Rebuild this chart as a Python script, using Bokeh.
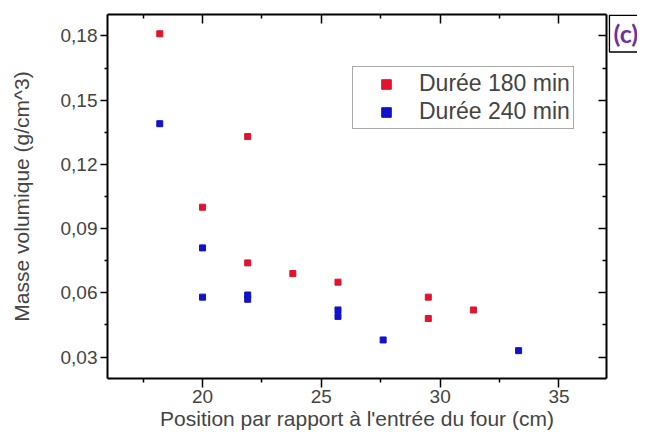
from bokeh.plotting import figure
from bokeh.layouts import row
from bokeh.core.properties import value
from bokeh.models import (LinearAxis, FixedTicker, CustomJSTickFormatter, Range1d,
                          Legend, LegendItem)
from bokeh.embed import file_html
from bokeh.resources import INLINE

# ---- data ----
pos_180 = [18.2, 21.9, 20.0, 21.9, 23.8, 25.7, 29.5, 29.5, 31.4]
dens_180 = [0.181, 0.133, 0.100, 0.074, 0.069, 0.065, 0.058, 0.048, 0.052]
pos_240 = [18.2, 20.0, 20.0, 21.9, 21.9, 25.7, 25.7, 27.6, 33.3]
dens_240 = [0.139, 0.081, 0.058, 0.059, 0.057, 0.052, 0.049, 0.038, 0.033]
series_labels = ["Durée 180 min", "Durée 240 min"]
x_ticks = [20, 25, 30, 35]
x_minor = [17.5, 22.5, 27.5, 32.5]
y_ticks = [0.03, 0.06, 0.09, 0.12, 0.15, 0.18]
y_minor = [0.045, 0.075, 0.105, 0.135, 0.165]
x_label = "Position par rapport à l'entrée du four (cm)"
y_label = "Masse volumique (g/cm^3)"
panel_tag = ["(c)"]

FONT = "Liberation Sans"
RED = "#E3122F"
BLUE = "#1212CC"

yr = Range1d(0.02, 0.19)

p = figure(width=608, height=432, output_backend="svg", toolbar_location=None,
           x_range=Range1d(16, 37), y_range=yr,
           x_axis_location=None, y_axis_location=None,
           min_border_left=107, min_border_right=2, min_border_top=14, min_border_bottom=50)
p.xgrid.visible = False
p.ygrid.visible = False
p.outline_line_color = None
p.background_fill_color = "white"
p.border_fill_color = "white"

xt = FixedTicker(ticks=x_ticks, minor_ticks=x_minor)
yt = FixedTicker(ticks=y_ticks, minor_ticks=y_minor)

def style(ax, tin, tout):
    ax.axis_line_color = "black"
    ax.axis_line_width = 2
    ax.major_tick_line_color = "black"
    ax.major_tick_line_width = 1.5
    ax.minor_tick_line_color = "black"
    ax.minor_tick_line_width = 1.5
    ax.major_tick_in = tin
    ax.major_tick_out = tout
    ax.minor_tick_in = tin // 2
    ax.minor_tick_out = tout // 2

bottom = LinearAxis(ticker=xt, axis_label=x_label)
style(bottom, 0, 9)
bottom.major_label_text_font = FONT
bottom.major_label_text_font_size = "19px"
bottom.major_label_standoff = 2
bottom.axis_label_text_font = FONT
bottom.axis_label_text_font_size = "21px"
bottom.axis_label_text_font_style = "normal"
bottom.axis_label_standoff = 1
p.add_layout(bottom, "below")

left = LinearAxis(ticker=yt, axis_label=y_label,
                  formatter=CustomJSTickFormatter(code="return tick.toFixed(2).replace('.', ',');"))
style(left, 0, 7)
left.major_label_text_font = FONT
left.major_label_text_font_size = "19px"
left.major_label_standoff = 3
left.axis_label_text_font = FONT
left.axis_label_text_font_size = "21px"
left.axis_label_text_font_style = "normal"
left.axis_label_standoff = 25
p.add_layout(left, "left")

empty = CustomJSTickFormatter(code="return '';")
top = LinearAxis(ticker=xt, formatter=empty)
style(top, 9, 0)
top.major_label_standoff = 0
p.add_layout(top, "above")

right = LinearAxis(ticker=yt, formatter=empty)
style(right, 8, 0)
right.major_label_standoff = 0
p.add_layout(right, "right")

r1 = p.scatter(pos_180, dens_180, marker="square", size=6, color=RED)
r2 = p.scatter(pos_240, dens_240, marker="square", size=6, color=BLUE)

legend = Legend(items=[LegendItem(label=series_labels[0], renderers=[r1]),
                       LegendItem(label=series_labels[1], renderers=[r2])],
                location=(245, 249), padding=3, spacing=1, margin=0,
                glyph_width=60, glyph_height=24, label_height=24, label_standoff=3,
                label_text_font=FONT, label_text_font_size="23px",
                border_line_color="#555555", border_line_width=1,
                background_fill_color="white")
p.add_layout(legend)

# panel tag "(c)": a narrow companion figure sharing the main frame's height,
# with a boxed tag drawn near its top
tag = figure(width=29, height=432, output_backend="svg", toolbar_location=None,
             x_range=Range1d(0, 1), y_range=yr,
             x_axis_location=None, y_axis_location=None,
             min_border_left=0, min_border_right=0, min_border_top=14, min_border_bottom=50)
tag.xgrid.visible = False
tag.ygrid.visible = False
tag.outline_line_color = None
tag.background_fill_color = "white"
tag.border_fill_color = "white"
tag.quad(left=[0.03], right=[1.2], top=[0.1897], bottom=[0.1725],
         fill_color="white", line_color="black", line_width=1.5)
tag.text(x=[0.6], y=[0.1812], text=panel_tag, text_align="center", text_baseline="middle",
         text_font=value("Lato"), text_font_style="bold", text_font_size="25px",
         text_color="#7030A0")

page = row(p, tag, spacing=0)

open("out.html", "w").write(file_html(page, INLINE))
